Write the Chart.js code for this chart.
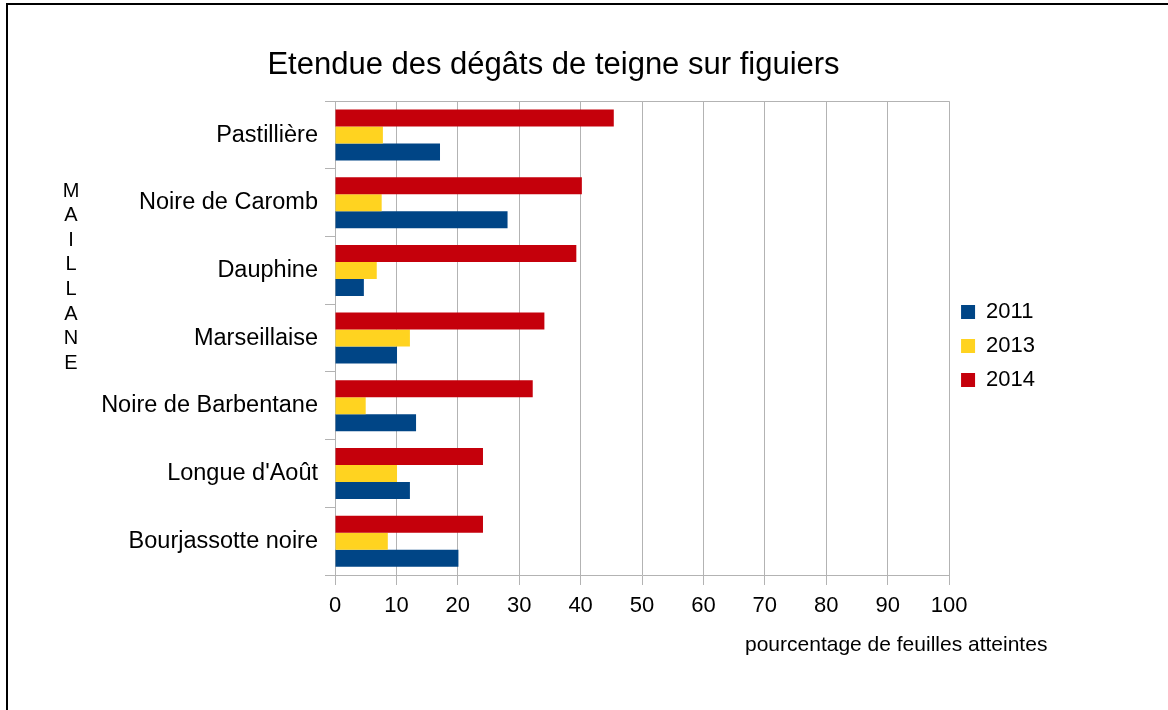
<!DOCTYPE html>
<html>
<head>
<meta charset="utf-8">
<script src="https://cdn.jsdelivr.net/npm/chart.js@4/dist/chart.umd.min.js"></script>
<style>
  body { margin: 0; background: #fff; }
  #wrap { position: relative; width: 1168px; height: 710px; overflow: hidden; }
  #frame { position: absolute; left: 6px; top: 3px; width: 1200px; height: 760px; border: 2px solid #000; box-sizing: border-box; }
  canvas { position: absolute; left: 0; top: 0; }
</style>
</head>
<body>
<div id="wrap">
  <div id="frame"></div>
  <canvas id="chart" width="1168" height="710"></canvas>
</div>
<script>
// varietes, du haut vers le bas
const varietes = ['Pastillière', 'Noire de Caromb', 'Dauphine', 'Marseillaise', 'Noire de Barbentane', "Longue d'Août", 'Bourjassotte noire']

const val2011 = [17.1, 28.1, 4.7, 10.1, 13.2, 12.2, 20.1]
const val2013 = [7.8, 7.6, 6.8, 12.2, 5.0, 10.1, 8.6]
const val2014 = [45.4, 40.2, 39.3, 34.1, 32.2, 24.1, 24.1]

const xTicks = [0, 10, 20, 30, 40, 50, 60, 70, 80, 90, 100]

const commune = ['M', 'A', 'I', 'L', 'L', 'A', 'N', 'E']
const titreX = 'pourcentage de feuilles atteintes'

const grey = '#b3b3b3'

Chart.defaults.font.family = "'Liberation Sans', Arial, sans-serif"
Chart.defaults.color = '#000'

// textes hors axes : MAILLANE vertical et titre de l'axe X
const extraText = {
  id: 'extraText',
  afterDraw( chart ) {
    const ctx = chart.ctx
    ctx.save()
    ctx.fillStyle = '#000'
    ctx.font = "20px 'Liberation Sans', Arial, sans-serif"
    ctx.textAlign = 'center'
    ctx.textBaseline = 'middle'
    commune.forEach( ( l, i ) => ctx.fillText( l, 71, 191 + i * 24.6 ) )
    ctx.font = "21px 'Liberation Sans', Arial, sans-serif"
    ctx.textAlign = 'left'
    ctx.textBaseline = 'alphabetic'
    ctx.fillText( titreX, 745, 651 )
    ctx.restore()
  }
}

const ctx = document.getElementById('chart').getContext('2d')

new Chart( ctx, {
  type: 'bar',
  data: {
    labels: varietes,
    datasets: [
      { label: '2014', data: val2014, backgroundColor: '#c5000b', borderWidth: 0 },
      { label: '2013', data: val2013, backgroundColor: '#ffd320', borderWidth: 0 },
      { label: '2011', data: val2011, backgroundColor: '#004586', borderWidth: 0 }
    ]
  },
  options: {
    indexAxis: 'y',
    responsive: false,
    animation: false,
    layout: { padding: { top: 0, left: 62, right: 123, bottom: 0 } },
    datasets: { bar: { categoryPercentage: 0.753, barPercentage: 1.0 } },
    scales: {
      x: {
        min: 0,
        max: 100,
        afterBuildTicks: scale => { scale.ticks = xTicks.map( v => ({ value: v }) ) },
        afterFit: scale => { scale.height = 135 },
        ticks: { font: { size: 22 }, padding: 8, color: '#000' },
        grid: { color: grey, tickColor: grey, tickLength: 10, lineWidth: 1 },
        border: { color: grey }
      },
      y: {
        afterFit: scale => { scale.width = 273 },
        ticks: { font: { size: 23.5 }, padding: 7, color: '#000' },
        grid: {
          offset: true,
          tickLength: 10,
          tickColor: grey,
          color: c => ( c.index === 0 || c.index === varietes.length ) ? grey : 'rgba(0,0,0,0)'
        },
        border: { color: grey }
      }
    },
    plugins: {
      title: {
        display: true,
        text: 'Etendue des dégâts de teigne sur figuiers',
        font: { size: 31, weight: 'normal' },
        color: '#000',
        padding: { top: 47, bottom: 17 }
      },
      legend: {
        position: 'right',
        fullSize: false,
        reverse: true,
        title: { display: true, text: ' ', font: { size: 10 }, padding: 2 },
        labels: { boxWidth: 14, boxHeight: 14, padding: 12, font: { size: 22 }, color: '#000' }
      },
      tooltip: { enabled: false }
    }
  },
  plugins: [ extraText ]
})
</script>
</body>
</html>
